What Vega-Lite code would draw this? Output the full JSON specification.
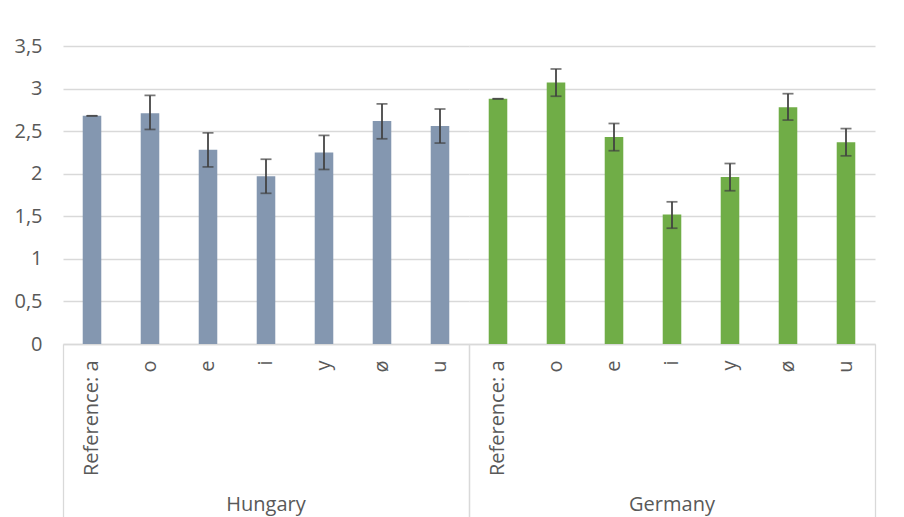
{
  "$schema": "https://vega.github.io/schema/vega-lite/v6.json",
  "padding": {"left": 5, "top": 36, "right": 5, "bottom": 2},
  "background": "white",
  "data": {"values": [
    {"country": "Hungary", "vowel": "Reference: a", "mean": 2.68, "lo": 2.68, "hi": 2.68},
    {"country": "Hungary", "vowel": "o", "mean": 2.71, "lo": 2.52, "hi": 2.92},
    {"country": "Hungary", "vowel": "e", "mean": 2.28, "lo": 2.08, "hi": 2.48},
    {"country": "Hungary", "vowel": "i", "mean": 1.97, "lo": 1.77, "hi": 2.17},
    {"country": "Hungary", "vowel": "y", "mean": 2.25, "lo": 2.05, "hi": 2.45},
    {"country": "Hungary", "vowel": "ø", "mean": 2.62, "lo": 2.41, "hi": 2.82},
    {"country": "Hungary", "vowel": "u", "mean": 2.56, "lo": 2.36, "hi": 2.76},
    {"country": "Germany", "vowel": "Reference: a", "mean": 2.88, "lo": 2.88, "hi": 2.88},
    {"country": "Germany", "vowel": "o", "mean": 3.07, "lo": 2.91, "hi": 3.23},
    {"country": "Germany", "vowel": "e", "mean": 2.43, "lo": 2.27, "hi": 2.59},
    {"country": "Germany", "vowel": "i", "mean": 1.52, "lo": 1.36, "hi": 1.67},
    {"country": "Germany", "vowel": "y", "mean": 1.96, "lo": 1.80, "hi": 2.12},
    {"country": "Germany", "vowel": "ø", "mean": 2.78, "lo": 2.63, "hi": 2.94},
    {"country": "Germany", "vowel": "u", "mean": 2.37, "lo": 2.21, "hi": 2.53}
  ]},
  "facet": {
    "column": {
      "field": "country", "type": "nominal", "sort": ["Hungary", "Germany"], "title": null,
      "header": {"labelOrient": "bottom", "labelFontSize": 20, "labelFont": "Open Sans", "labelColor": "#595959", "labelPadding": -28}
    }
  },
  "spacing": 0,
  "spec": {
    "width": 406,
    "height": 298,
    "layer": [
      {
        "mark": {"type": "bar", "width": {"band": 0.32}},
        "encoding": {
          "x": {"field": "vowel", "type": "nominal", "sort": ["Reference: a", "o", "e", "i", "y", "ø", "u"], "scale": {"paddingInner": 0, "paddingOuter": 0},
            "axis": {"title": null, "labelAngle": 270, "labelFontSize": 20, "labelFont": "Open Sans", "labelColor": "#595959", "labelPadding": 16, "ticks": false, "domain": true, "domainColor": "#d9d9d9", "domainWidth": 1.3, "grid": false, "labelLimit": 300}},
          "y": {"field": "mean", "type": "quantitative", "title": null, "scale": {"domain": [0, 3.5], "nice": false}},
          "color": {"field": "country", "type": "nominal", "scale": {"domain": ["Hungary", "Germany"], "range": ["#8497B0", "#70AD47"]}, "legend": null}
        }
      },
      {
        "mark": {"type": "rule", "color": "#404040", "strokeWidth": 1.75},
        "encoding": {
          "x": {"field": "vowel", "type": "nominal", "sort": ["Reference: a", "o", "e", "i", "y", "ø", "u"], "axis": null},
          "y": {"field": "lo", "type": "quantitative", "title": null},
          "y2": {"field": "hi"}
        }
      },
      {
        "mark": {"type": "tick", "color": "#404040", "thickness": 1.75, "size": 11},
        "encoding": {
          "x": {"field": "vowel", "type": "nominal", "sort": ["Reference: a", "o", "e", "i", "y", "ø", "u"], "axis": null},
          "y": {"field": "lo", "type": "quantitative", "title": null}
        }
      },
      {
        "mark": {"type": "tick", "color": "#404040", "thickness": 1.75, "size": 11},
        "encoding": {
          "x": {"field": "vowel", "type": "nominal", "sort": ["Reference: a", "o", "e", "i", "y", "ø", "u"], "axis": null},
          "y": {"field": "hi", "type": "quantitative", "title": null}
        }
      },
      {
        "mark": {"type": "tick", "opacity": 0},
        "encoding": {
          "x": {"field": "vowel", "type": "nominal", "sort": ["Reference: a", "o", "e", "i", "y", "ø", "u"],
            "axis": {"orient": "bottom", "title": null, "labels": false, "domain": false, "grid": false, "ticks": true, "tickSize": 178, "tickColor": "#d9d9d9", "tickWidth": 1.3, "values": ["Reference: a"], "bandPosition": 0, "minExtent": 0, "maxExtent": 0}},
          "y": {"field": "mean", "type": "quantitative", "title": null}
        }
      },
      {
        "mark": {"type": "tick", "opacity": 0},
        "encoding": {
          "x": {"field": "vowel", "type": "nominal", "sort": ["Reference: a", "o", "e", "i", "y", "ø", "u"],
            "axis": {"orient": "bottom", "title": null, "labels": false, "domain": false, "grid": false, "ticks": true, "tickSize": 178, "tickColor": "#d9d9d9", "tickWidth": 1.3, "values": ["u"], "bandPosition": 1, "minExtent": 0, "maxExtent": 0}},
          "y": {"field": "mean", "type": "quantitative", "title": null}
        }
      }
    ],
    "resolve": {"axis": {"x": "independent"}}
  },
  "config": {
    "font": "Open Sans",
    "view": {"stroke": null},
    "axisY": {"domain": false, "ticks": false, "labelPadding": 21, "labelFontSize": 20, "labelFont": "Open Sans", "labelColor": "#595959", "gridColor": "#d9d9d9", "gridWidth": 1.3, "tickCount": 7, "labelExpr": "replace(format(datum.value, '~g'), '.', ',')", "minExtent": 58, "maxExtent": 58}
  }
}
